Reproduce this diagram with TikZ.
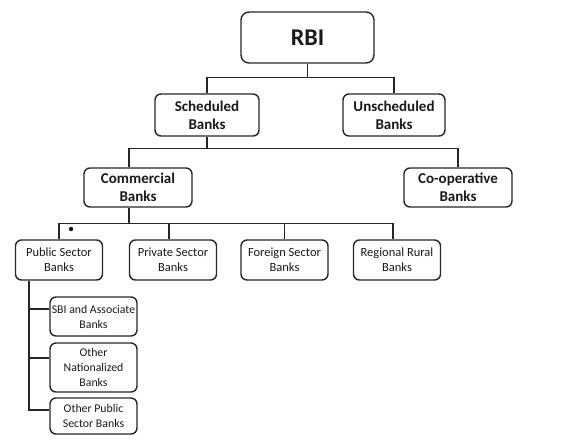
\documentclass[tikz,border=0pt]{standalone}
\usepackage{fontspec}
\setmainfont{Carlito}

\begin{document}
\begin{tikzpicture}[x=1pt,y=-1pt]

	\tikzstyle bank=[draw=black!85, line width=1.4pt, rounded corners=6pt, align=center, inner sep=1pt, text=black!90];
	\tikzstyle top bank=[bank, font=\bfseries\fontsize{15}{18}\selectfont];
	\tikzstyle low bank=[bank, font=\fontsize{12.5}{15}\selectfont, minimum width=87pt];
	\tikzstyle sub bank=[bank, font=\fontsize{11.8}{15}\selectfont, minimum width=87pt];
	\tikzstyle bank lines=[line width=1.4pt, draw=black!85];

	\useasboundingbox (0,0) rectangle (583,440);

	% top
	\node[bank, font=\bfseries\fontsize{24}{28}\selectfont, minimum width=133pt, minimum height=51pt, rounded corners=8pt] (rbi) at (307.5,37.5) {RBI};

	\node[top bank, minimum width=104pt, minimum height=42pt] (sched) at (207,115) {Scheduled\\Banks};
	\node[top bank, minimum width=102pt, minimum height=42pt] (unsched) at (394,115) {Unscheduled\\Banks};

	\node[top bank, minimum width=108pt, minimum height=39pt] (comm) at (138,187.5) {Commercial\\Banks};
	\node[top bank, minimum width=108pt, minimum height=39pt] (coop) at (458,187.5) {Co-operative\\Banks};

	% commercial banks
	\node[low bank, minimum height=40pt] (pub) at (59,260) {Public Sector\\Banks};
	\node[low bank, minimum height=40pt] (priv) at (173,260) {Private Sector\\Banks};
	\node[low bank, minimum height=40pt] (forg) at (284.5,260) {Foreign Sector\\Banks};
	\node[low bank, minimum height=40pt] (reg) at (397,260) {Regional Rural\\Banks};

	% public sector
	\node[sub bank, minimum height=39pt] (sbi) at (93.5,316.5) {SBI and Associate\\Banks};
	\node[sub bank, minimum height=49pt] (onat) at (93.5,367.5) {Other\\Nationalized\\Banks};
	\node[sub bank, minimum height=36pt] (opub) at (93.5,416) {Other Public\\Sector Banks};

	\draw[bank lines] (rbi.south) -- ++(0,14) coordinate (j1);
	\draw[bank lines] (sched.north) |- (j1) -| (unsched.north);

	\draw[bank lines] (sched.south) -- ++(0,12) coordinate (j2);
	\draw[bank lines] ([xshift=-9pt]comm.north) |- (j2) -| (coop.north);

	\draw[bank lines] ([xshift=-9pt]comm.south) -- ++(0,16) coordinate (j3);
	\draw[bank lines] (pub.north) |- (j3) -| ([xshift=-4pt]reg.north);
	\draw[bank lines] ([xshift=-4pt]priv.north) -- ([xshift=-4pt]priv.north |- j3);
	\draw[bank lines] (forg.north) -- (forg.north |- j3);

	\fill[black!90] (71,229) circle (2.2pt);

	\coordinate (trunk) at ([xshift=14pt]pub.south west);
	\path ([yshift=7.5pt]sbi.west) coordinate (b1) ([yshift=9.5pt]onat.west) coordinate (b2) ([yshift=6pt]opub.west) coordinate (b3);
	\draw[bank lines] (trunk) |- (b3);
	\draw[bank lines] (b1 -| trunk) -- (b1);
	\draw[bank lines] (b2 -| trunk) -- (b2);

\end{tikzpicture}
\end{document}
